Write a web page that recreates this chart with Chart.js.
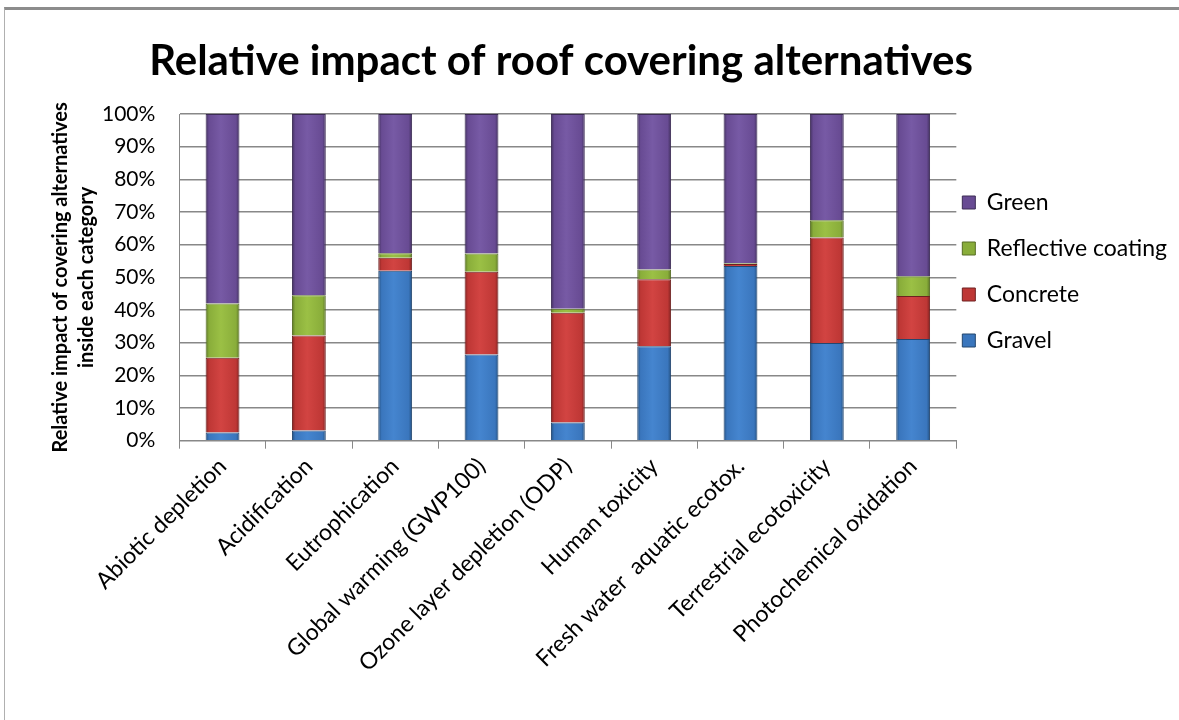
<!DOCTYPE html>
<html>
<head>
<meta charset="utf-8">
<script src="https://cdn.jsdelivr.net/npm/chart.js@4.4.0/dist/chart.umd.min.js"></script>
<style>
  html, body { margin: 0; padding: 0; background: #fff; }
  #frame { position: absolute; left: 4px; top: 7px; width: 1180px; height: 720px; border-top: 3px solid #8c8c8c; border-left: 1px solid #b0b0b0; }
  #wrap { position: absolute; left: 0; top: 0; width: 1179px; height: 720px; }
</style>
</head>
<body>
<div id="frame"></div>
<div id="wrap"><canvas id="c" width="1179" height="720"></canvas></div>
<script>
const categories = [
  "Abiotic depletion", "Acidification", "Eutrophication", "Global warming (GWP100)",
  "Ozone layer depletion (ODP)", "Human toxicity", "Fresh water  aquatic ecotox.",
  "Terrestrial ecotoxicity", "Photochemical oxidation"
];
const gravel     = [2.5, 3.1, 52.0, 26.4, 5.6, 28.9, 53.5, 29.9, 31.1];
const concrete   = [22.9, 29.1, 4.0, 25.3, 33.6, 20.5, 0.6, 32.3, 13.2];
const reflective = [16.6, 12.3, 1.4, 5.6, 1.2, 3.0, 0.2, 5.3, 6.0];
const green      = [58.0, 55.5, 42.6, 42.7, 59.6, 47.6, 45.7, 32.5, 49.7];
const yTicks = ["0%", "10%", "20%", "30%", "40%", "50%", "60%", "70%", "80%", "90%", "100%"];

const FONT = "Lato, 'Liberation Sans', sans-serif";
const BAR_PCT = 0.8, CAT_PCT = 0.49;
const legendFill = ["#3a76bd", "#be3735", "#89ad3a", "#684b93"];

function barFill(dark, base, light) {
  return (ctx) => {
    if (ctx.type !== 'data') return base;
    const chart = ctx.chart;
    const xs = chart.scales && chart.scales.x;
    if (!xs || !chart.chartArea) return base;
    const cx = xs.getPixelForValue(ctx.dataIndex);
    if (!isFinite(cx)) return base;
    const w = xs.width / categories.length * BAR_PCT * CAT_PCT;
    const g = chart.ctx.createLinearGradient(cx - w / 2, 0, cx + w / 2, 0);
    g.addColorStop(0, dark);
    g.addColorStop(0.1, base);
    g.addColorStop(0.45, light);
    g.addColorStop(0.9, base);
    g.addColorStop(1, dark);
    return g;
  };
}

const boxShift = {
  id: 'boxShift',
  afterLayout(chart) {
    const lg = chart.legend;
    if (lg) {
      lg.left -= 17; lg.right -= 17;
      lg.top -= 87; lg.bottom -= 87;
    }
    const tb = chart.titleBlock;
    if (tb) {
      tb.left = 100; tb.right = 1022; tb.width = tb.right - tb.left;
    }
  }
};

new Chart(document.getElementById('c'), {
  type: 'bar',
  data: {
    labels: categories,
    datasets: [
      { label: "Gravel", data: gravel, backgroundColor: barFill("#24507f", "#3a76bd", "#4585cf"), borderColor: "#23466f", borderWidth: 1 },
      { label: "Concrete", data: concrete, backgroundColor: barFill("#7f2221", "#be3735", "#d24442"), borderColor: "#6e2120", borderWidth: 1 },
      { label: "Reflective coating", data: reflective, backgroundColor: barFill("#5a7426", "#89ad3a", "#9bc045"), borderColor: "#566d24", borderWidth: 1 },
      { label: "Green", data: green, backgroundColor: barFill("#41305d", "#684b93", "#775aa5"), borderColor: "#3c2c55", borderWidth: 1 }
    ]
  },
  plugins: [boxShift],
  options: {
    responsive: false,
    animation: false,
    layout: { padding: { left: 48, right: -15, top: 36, bottom: 39 } },
    datasets: { bar: { barPercentage: BAR_PCT, categoryPercentage: CAT_PCT } },
    plugins: {
      title: {
        display: true,
        fullSize: true,
        text: "Relative impact of roof covering alternatives",
        color: "#000",
        font: { family: FONT, size: 42, weight: 'bold' },
        padding: { top: 0, bottom: 27.6 }
      },
      legend: {
        position: 'right',
        reverse: true,
        labels: {
          color: "#000",
          font: { family: FONT, size: 23 },
          boxWidth: 13, boxHeight: 13,
          padding: 23,
          generateLabels: (chart) => Chart.defaults.plugins.legend.labels.generateLabels(chart)
            .map(l => Object.assign(l, { fillStyle: legendFill[l.datasetIndex] }))
        }
      },
      tooltip: { enabled: false }
    },
    scales: {
      x: {
        stacked: true,
        grid: { display: true, drawOnChartArea: false, drawTicks: true, offset: true, tickLength: 8, color: "#888" },
        border: { color: "#888" },
        ticks: { color: "#000", font: { family: FONT, size: 23 }, maxRotation: 45, minRotation: 45, padding: 4 }
      },
      y: {
        stacked: true,
        min: 0, max: 100,
        afterBuildTicks: (axis) => { axis.ticks = yTicks.map((t, i) => ({ value: i * 10 })); },
        grid: { color: "#888", lineWidth: 1.5, drawTicks: false },
        border: { color: "#888" },
        ticks: {
          color: "#000",
          font: { family: FONT, size: 21 },
          padding: 24,
          callback: (v, i) => yTicks[i]
        },
        title: {
          display: true,
          text: ["Relative impact of covering alternatives", "inside each category"],
          color: "#000",
          font: { family: FONT, size: 20, weight: 'bold', lineHeight: 1.3 },
          padding: { top: 0, bottom: -22 }
        }
      }
    }
  }
});
</script>
</body>
</html>
